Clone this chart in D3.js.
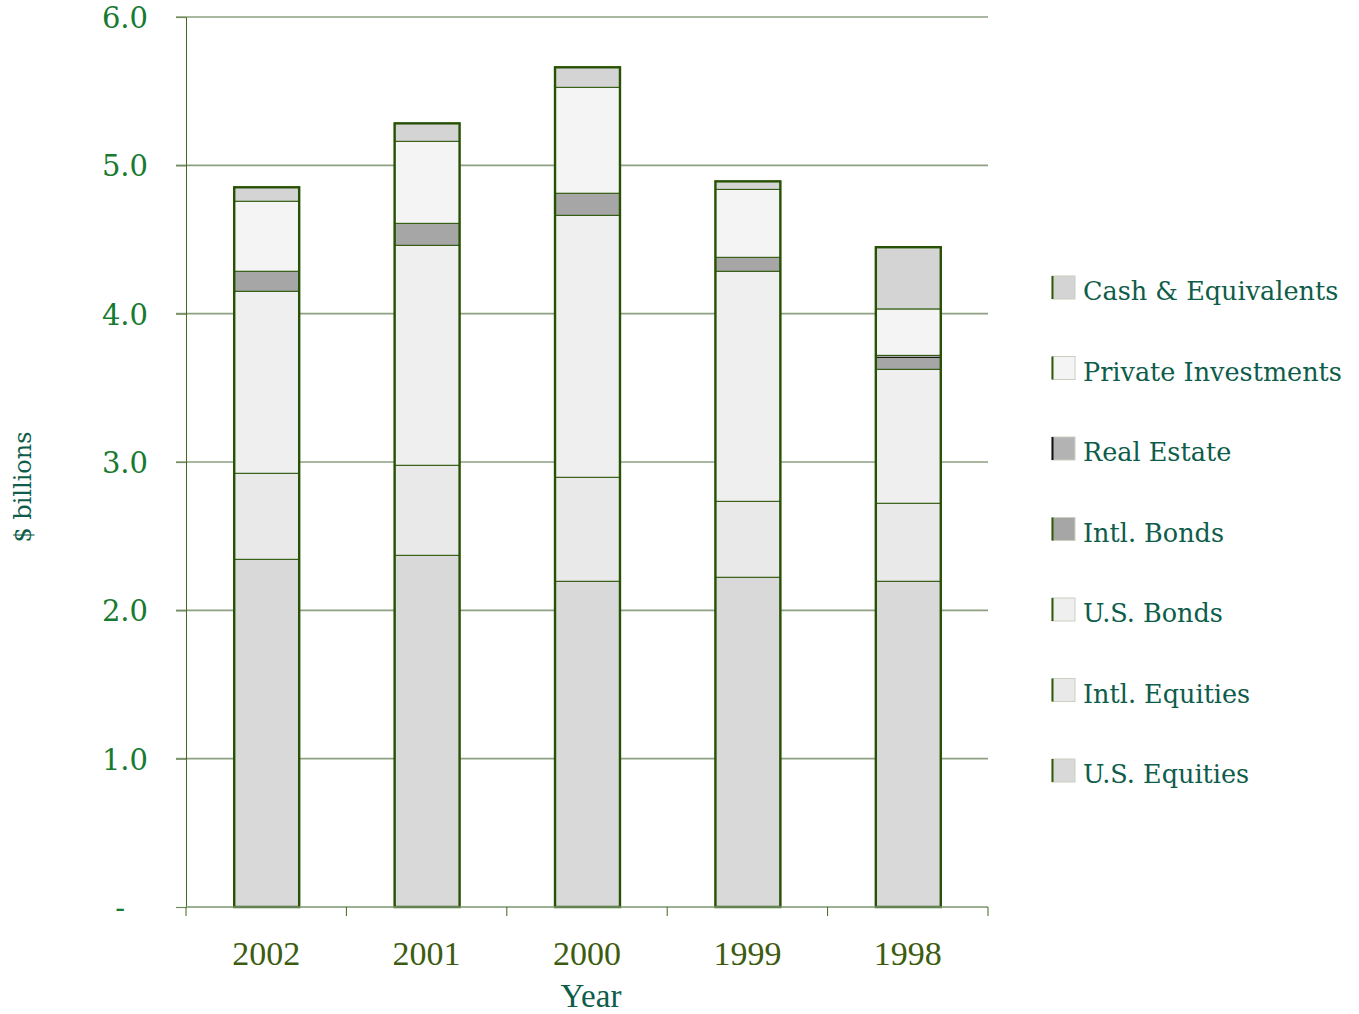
<!DOCTYPE html>
<html>
<head>
<meta charset="utf-8">
<script src="https://cdn.jsdelivr.net/npm/d3@7"></script>
<style>
  body { margin: 0; background: #fff; }
  svg { display: block; }
</style>
</head>
<body>
<div id="chart"></div>
<script>
// values in $ billions
var years = ["2002", "2001", "2000", "1999", "1998"];
var usEquities   = [2.344, 2.371, 2.196, 2.223, 2.196];
var intlEquities = [0.580, 0.607, 0.701, 0.512, 0.526];
var usBonds      = [1.227, 1.483, 1.766, 1.551, 0.903];
var intlBonds    = [0.135, 0.148, 0.149, 0.094, 0.080];
var realEstate   = [0, 0, 0, 0, 0.014];
var privateInv   = [0.472, 0.553, 0.714, 0.458, 0.313];
var cashEquiv    = [0.094, 0.121, 0.135, 0.054, 0.416];

var seriesNames = ["U.S. Equities", "Intl. Equities", "U.S. Bonds", "Intl. Bonds",
                   "Real Estate", "Private Investments", "Cash & Equivalents"];
var seriesValues = [usEquities, intlEquities, usBonds, intlBonds, realEstate, privateInv, cashEquiv];
var seriesColors = ["#d9d9d9", "#e9e9e9", "#efefef", "#a6a6a6", "#b3b3b3", "#f4f4f4", "#d4d4d4"];
var yTicks = [0, 1, 2, 3, 4, 5, 6];

var dataset = years.map(function(y, i) {
    var row = { year: y };
    seriesNames.forEach(function(s, j) { row[s] = seriesValues[j][i]; });
    return row;
});

var width = 1359, height = 1014;
var plot = { left: 186, right: 988, top: 17, bottom: 907 };

var svg = d3.select("#chart").append("svg")
    .attr("width", width)
    .attr("height", height);

var xScale = d3.scaleBand()
    .domain(years)
    .range([plot.left, plot.right])
    .padding(0);

var yScale = d3.scaleLinear()
    .domain([0, 6])
    .range([plot.bottom, plot.top]);

var barW = xScale.bandwidth() * 0.405;
var barX = function(y) { return xScale(y) + (xScale.bandwidth() - barW) / 2 + 0.5; };

// gridlines
svg.append("g")
    .selectAll("line")
    .data(yTicks.filter(function(d) { return d > 0; }))
    .enter().append("line")
    .attr("x1", plot.left - 10)
    .attr("x2", plot.right)
    .attr("y1", function(d) { return yScale(d); })
    .attr("y2", function(d) { return yScale(d); })
    .style("stroke", "#8da081")
    .style("stroke-width", 1.6);

// stacked bars
var stack = d3.stack().keys(seriesNames);
var layers = stack(dataset);

var layer = svg.append("g").selectAll("g")
    .data(layers)
    .enter().append("g")
    .style("fill", function(d, i) { return seriesColors[i]; });

layer.selectAll("rect")
    .data(function(d) { return d.filter(function(p) { return p[1] - p[0] > 0; }); })
    .enter().append("rect")
    .attr("x", function(d) { return barX(d.data.year); })
    .attr("width", barW)
    .attr("y", function(d) { return yScale(d[1]); })
    .attr("height", function(d) { return yScale(d[0]) - yScale(d[1]); })
    .style("stroke", function() {
        return d3.select(this.parentNode).datum().key === "Real Estate" ? "#111" : "#2a5506";
    })
    .style("stroke-width", 1);

// bar outlines
svg.append("g").selectAll("rect")
    .data(dataset)
    .enter().append("rect")
    .attr("x", function(d) { return barX(d.year); })
    .attr("width", barW)
    .attr("y", function(d) { return yScale(d3.sum(seriesNames, function(s) { return d[s]; })); })
    .attr("height", function(d) { return plot.bottom - yScale(d3.sum(seriesNames, function(s) { return d[s]; })); })
    .style("fill", "none")
    .style("stroke", "#275203")
    .style("stroke-width", 2.4);

// y axis
var yAxis = svg.append("g")
    .attr("transform", "translate(" + plot.left + ",0)")
    .call(d3.axisLeft(yScale).tickValues(yTicks).tickSize(10)
        .tickFormat(function(d) { return d === 0 ? "-" : d3.format(".1f")(d); })
        .tickPadding(28));
yAxis.select(".domain").style("stroke", "#3d6a1c").style("stroke-width", 1);
yAxis.selectAll(".tick line").style("stroke", "#6f8c5c").style("stroke-width", 1.2);
yAxis.selectAll(".tick text")
    .style("font-family", "'DejaVu Serif', serif")
    .style("font-size", "29px")
    .style("fill", "#177a30")
    .attr("dy", "0.36em");
yAxis.selectAll(".tick").filter(function(d) { return d === 0; }).select("text")
    .attr("x", -61);

// x axis
var xAxis = svg.append("g")
    .attr("transform", "translate(0," + plot.bottom + ")")
    .call(d3.axisBottom(xScale).tickSize(0).tickPadding(34));
xAxis.select(".domain").remove();
xAxis.selectAll(".tick text")
    .style("font-family", "'Liberation Serif', serif")
    .style("font-size", "34px")
    .style("fill", "#3d5c10")
    .attr("dy", "0.71em");

svg.append("line")
    .attr("x1", plot.left).attr("x2", plot.right)
    .attr("y1", plot.bottom).attr("y2", plot.bottom)
    .style("stroke", "#7b9670").style("stroke-width", 1.6);

var bounds = years.map(function(y) { return xScale(y); }).concat([plot.right]);
svg.append("g").selectAll("line")
    .data(bounds)
    .enter().append("line")
    .attr("x1", function(d) { return d; })
    .attr("x2", function(d) { return d; })
    .attr("y1", plot.bottom)
    .attr("y2", plot.bottom + 9)
    .style("stroke", "#3d6a1c")
    .style("stroke-width", 1);

// axis titles
svg.append("text")
    .attr("x", 591)
    .attr("y", 1007)
    .attr("text-anchor", "middle")
    .style("font-family", "'Liberation Serif', serif")
    .style("font-size", "33px")
    .style("fill", "#0e5c4a")
    .text("Year");

svg.append("text")
    .attr("transform", "translate(31,487) rotate(-90)")
    .attr("text-anchor", "middle")
    .style("font-family", "'DejaVu Serif', serif")
    .style("font-size", "24px")
    .style("fill", "#0e5c4a")
    .text("$ billions");

// legend, top to bottom in reverse stack order
var legendOrder = seriesNames.slice().reverse();
var legend = svg.append("g").selectAll("g")
    .data(legendOrder)
    .enter().append("g")
    .attr("transform", function(d, i) { return "translate(1052," + (300 + i * 80.5) + ")"; });

legend.append("rect")
    .attr("x", 0).attr("y", -24)
    .attr("width", 23).attr("height", 23)
    .style("fill", function(d) { return seriesColors[seriesNames.indexOf(d)]; })
    .style("stroke", "#c8d0c0")
    .style("stroke-width", 1);

legend.append("line")
    .attr("x1", 0.5).attr("x2", 0.5)
    .attr("y1", -24).attr("y2", -1)
    .style("stroke", function(d) { return d === "Real Estate" ? "#111" : "#2e5a0a"; })
    .style("stroke-width", 2);

legend.append("text")
    .attr("x", 31)
    .attr("y", 0)
    .style("font-family", "'DejaVu Serif', serif")
    .style("font-size", "25.5px")
    .style("fill", "#0e5c4a")
    .text(function(d) { return d; });
</script>
</body>
</html>
